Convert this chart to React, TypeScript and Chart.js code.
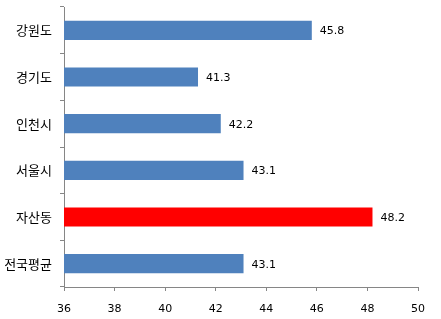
import React, { useEffect, useRef } from "react";
import { Chart, registerables } from "chart.js";

Chart.register(...registerables);

const categories = ["강원도", "경기도", "인천시", "서울시", "자산동", "전국평균"];
const values = [45.8, 41.3, 42.2, 43.1, 48.2, 43.1];
const highlightIndex = 4;
const xMin = 36;
const xMax = 50;
const xStep = 2;

const BLUE = "#4F81BD";
const RED = "#FF0000";
const AXIS = "#868686";

const valueLabels = {
  id: "valueLabels",
  afterDatasetsDraw(chart: any) {
    const ctx = chart.ctx;
    const meta = chart.getDatasetMeta(0);
    ctx.save();
    ctx.font = "11px 'DejaVu Sans'";
    ctx.fillStyle = "#000000";
    ctx.textAlign = "left";
    ctx.textBaseline = "middle";
    meta.data.forEach((bar: any, i: number) => {
      const v = chart.data.datasets[0].data[i];
      ctx.fillText(String(v.toFixed(1)), bar.x + 8, bar.y + 1);
    });
    ctx.restore();
  },
};

export default function App() {
  const ref = useRef<HTMLCanvasElement | null>(null);
  useEffect(() => {
    document.body.style.margin = "0";
    const canvas = ref.current!;
    const chart = new Chart(canvas, {
      type: "bar",
      data: {
        labels: categories,
        datasets: [
          {
            data: values,
            backgroundColor: values.map((_, i) => (i === highlightIndex ? RED : BLUE)),
            barPercentage: 0.41,
            categoryPercentage: 1,
          },
        ],
      },
      options: {
        indexAxis: "y",
        animation: false,
        responsive: false,
        maintainAspectRatio: false,
        layout: { padding: { top: 7, right: 23, left: 0, bottom: 0 } },
        plugins: { legend: { display: false }, tooltip: { enabled: false } },
        scales: {
          x: {
            min: xMin,
            max: xMax,
            ticks: {
              stepSize: xStep,
              color: "#000000",
              font: { family: "'DejaVu Sans'", size: 11 },
              padding: 12,
            },
            grid: {
              drawOnChartArea: false,
              tickLength: 4,
              color: AXIS,
            },
            border: { color: AXIS, width: 1 },
            afterFit(scale: any) {
              scale.height = 32;
            },
          },
          y: {
            ticks: {
              color: "#000000",
              font: { family: "'Noto Sans CJK KR'", size: 13 },
              padding: 8,
            },
            grid: {
              drawOnChartArea: false,
              tickLength: 4,
              color: AXIS,
              offset: true,
            },
            border: { color: AXIS, width: 1 },
            afterFit(scale: any) {
              scale.width = 64;
              scale.paddingTop = 0;
              scale.paddingBottom = 0;
            },
          },
        },
      },
      plugins: [valueLabels],
    });
    return () => chart.destroy();
  }, []);
  return (
    <div style={{ width: 441, height: 319, background: "#fff" }}>
      <canvas ref={ref} width={441} height={319} style={{ display: "block" }} />
    </div>
  );
}
